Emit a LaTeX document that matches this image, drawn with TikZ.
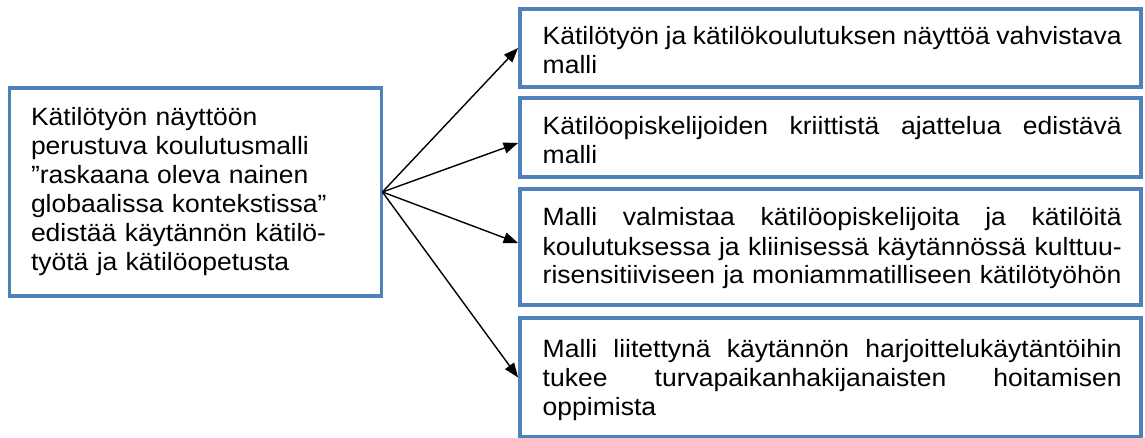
\documentclass[tikz,border=0pt]{standalone}
\usepackage{fontspec}
\setmainfont{Liberation Sans}
\newfontfamily\diagfont{Liberation Sans}[FakeStretch=1.06]
\usetikzlibrary{arrows.meta}
\definecolor{boxblue}{HTML}{4F81BD}
\tikzset{
  bluebox/.style={draw=boxblue, line width=3.8pt, rectangle, inner sep=0pt, fill=white},
  boxtext/.style={anchor=base west, inner sep=0pt, align=left,
    font=\diagfont\fontsize{25}{29}\selectfont},
  rtext/.style={boxtext, text width=600pt},
  arr/.style={-{Triangle[length=14.5pt,width=11pt]}, line width=1.4pt, black},
}
\newcommand{\jline}[1]{\leavevmode\hbox to 579pt{\spaceskip=0.278em plus 1fil minus 0.12em\relax #1}}
\begin{document}
\begin{tikzpicture}[x=1pt,y=-1pt]
\useasboundingbox (0,0) rectangle (1145,438);
\node[bluebox, minimum width=372pt, minimum height=208pt] (L) at (195.5,192) {};
\node[bluebox, minimum width=621pt, minimum height=78pt] (b1) at (830.5,48) {};
\node[bluebox, minimum width=621pt, minimum height=79pt] (b2) at (830.5,137.5) {};
\node[bluebox, minimum width=621pt, minimum height=116pt] (b3) at (830.5,247) {};
\node[bluebox, minimum width=621pt, minimum height=119pt] (b4) at (830.5,377.5) {};

\node[boxtext, text width=345pt] (tL) at (30.8,126) {Kätilötyön näyttöön\\perustuva koulutusmalli\\”raskaana oleva nainen\\globaalissa kontekstissa”\\edistää käytännön kätilö-\\työtä ja kätilöopetusta};
\node[rtext] (t1) at (542.5,45) {\jline{Kätilötyön ja kätilökoulutuksen näyttöä vahvistava}\\malli};
\node[rtext] (t2) at (542.5,135) {\jline{Kätilöopiskelijoiden kriittistä ajattelua edistävä}\\malli};
\node[rtext] (t3) at (542.5,226) {\jline{Malli valmistaa kätilöopiskelijoita ja kätilöitä}\\\jline{koulutuksessa ja kliinisessä käytännössä kulttuu-}\\risensitiiviseen ja moniammatilliseen kätilötyöhön};
\node[rtext] (t4) at (542.5,357) {\jline{Malli liitettynä käytännön harjoittelukäytäntöihin}\\\jline{tukee turvapaikanhakijanaisten hoitamisen}\\oppimista};

\coordinate (fan) at ([xshift=-1pt]L.east);
\draw[arr] (fan) -- (b1.west);
\draw[arr] (fan) -- ([yshift=-5.5pt]b2.west);
\draw[arr] (fan) -- ([yshift=4pt]b3.west);
\draw[arr] (fan) -- (b4.west);
\end{tikzpicture}
\end{document}
